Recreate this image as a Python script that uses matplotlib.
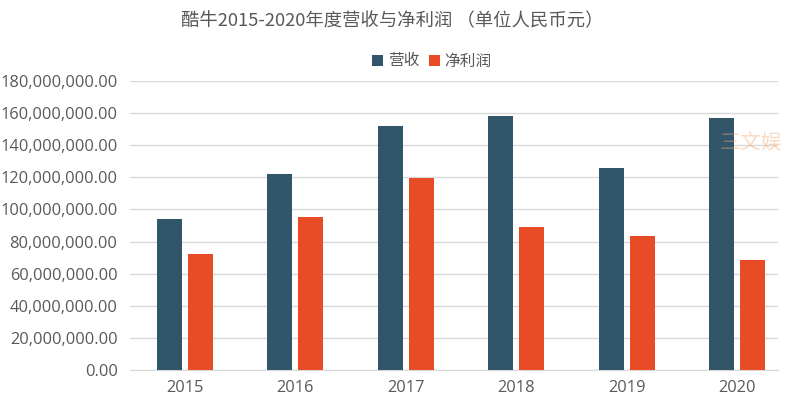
import numpy as np
import matplotlib.pyplot as plt
from matplotlib.ticker import FuncFormatter

plt.rcParams['font.family'] = ['Open Sans', 'Noto Sans CJK SC', 'DejaVu Sans']

years = ['2015', '2016', '2017', '2018', '2019', '2020']
revenue = [94.0e6, 122.0e6, 151.9e6, 158.2e6, 125.8e6, 156.9e6]      # 营收
net_profit = [72.2e6, 95.3e6, 119.5e6, 89.0e6, 83.4e6, 68.5e6]      # 净利润

c_rev = '#31566a'
c_net = '#e84c27'
txt = '#595959'

fig = plt.figure(figsize=(7.89, 4.04), dpi=100)
ax = fig.add_axes([130 / 789, 1 - 370 / 404, (778 - 130) / 789, (370 - 81) / 404])

x = np.arange(len(years))
w = 0.226
ax.bar(x - 0.14, revenue, w, color=c_rev, label='营收', zorder=3)
ax.bar(x + 0.14, net_profit, w, color=c_net, label='净利润', zorder=3)

ax.set_ylim(0, 180e6)
ax.set_yticks(np.arange(0, 180e6 + 1, 20e6))
ax.yaxis.set_major_formatter(FuncFormatter(lambda v, p: f'{v:,.2f}'))
ax.set_xlim(-0.498, 5.37)
ax.set_xticks(x)
ax.set_xticklabels(years)
ax.grid(axis='y', color='#d9d9d9', linewidth=1, zorder=0)
for s in ['top', 'right', 'left']:
    ax.spines[s].set_visible(False)
ax.spines['bottom'].set_color('#d9d9d9')
ax.tick_params(length=0, colors=txt, labelsize=11.8)
ax.tick_params(axis='y', pad=9)
ax.tick_params(axis='x', pad=7)

fig.text(392 / 789, 1 - 21 / 404, '酷牛2015-2020年度营收与净利润 （单位人民币元）',
         ha='center', va='center', fontsize=13.2, color=txt,
         family=['Noto Sans CJK SC', 'DejaVu Sans'])

leg = ax.legend(loc='center', bbox_to_anchor=(432 / 789, 1 - 61 / 404),
                bbox_transform=fig.transFigure, ncol=2, frameon=False,
                handlelength=0.7, handleheight=0.7, handletextpad=0.3,
                columnspacing=0.6, fontsize=11.3)
for t in leg.get_texts():
    t.set_color(txt)
    t.set_family(['Noto Sans CJK SC', 'DejaVu Sans'])

# watermark
fig.text(720 / 789, 1 - 143 / 404, '三文娱', ha='left', va='center', fontsize=15,
         color='#f4a46a', alpha=0.4, family=['Noto Sans CJK SC', 'DejaVu Sans'])

fig.savefig('out.png', dpi=100)
